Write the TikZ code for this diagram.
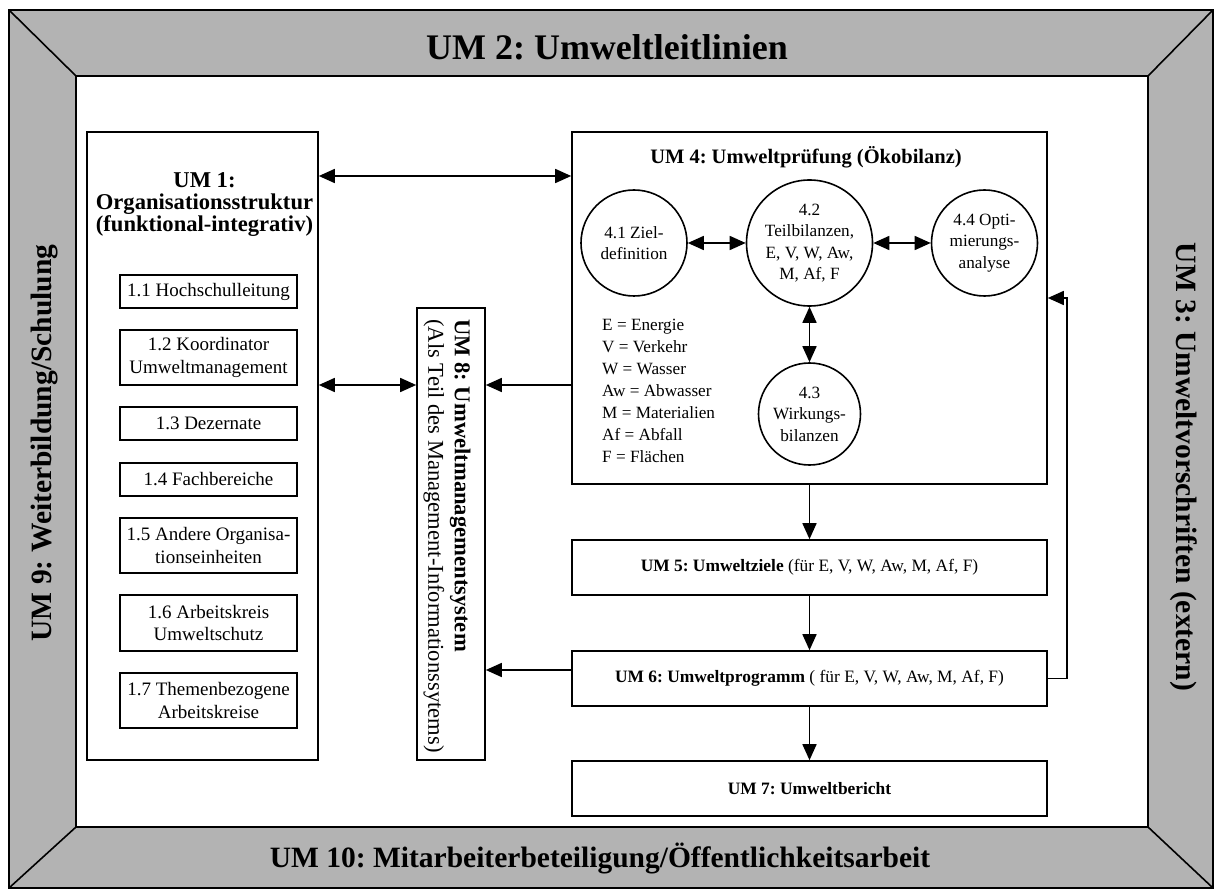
\documentclass[tikz,border=0pt]{standalone}
\usepackage{fontspec}
\setmainfont{Liberation Serif}
\usetikzlibrary{arrows.meta}
\definecolor{bandgray}{HTML}{B3B3B3}
\newcommand\fsz[2]{\fontsize{#1}{#2}\selectfont\frenchspacing}

\begin{document}
\begin{tikzpicture}[x=1pt,y=-1pt,
  box/.style={draw, line width=1.6pt, inner sep=0pt},
  sub/.style={box, minimum width=177pt, align=center, font=\fsz{19}{22.5}},
  bubble/.style={draw, circle, line width=1.6pt, inner sep=0pt, align=center, font=\fsz{17.2}{21.5}},
  tip/.tip={Triangle[length=16pt,width=14pt]},
  flow/.style={line width=1.6pt, -tip},
  twoway/.style={line width=1.6pt, tip-tip},
  band/.style={font=\fsz{29.5}{32}\bfseries, inner sep=0pt},
  wide/.style={box, minimum width=475pt, minimum height=55pt, font=\fsz{17.4}{20}},
]
\useasboundingbox (0,0) rectangle (1215,890);

% bevelled outer frame
\fill[bandgray, even odd rule] (9,10) rectangle (1213,888) (76,76) rectangle (1148,827);
\draw[line width=1.6pt] (9,10) rectangle (1213,888);
\draw[line width=1.6pt] (76,76) rectangle (1148,827);
\draw[line width=1.6pt] (9,10) -- (76,76) (1213,10) -- (1148,76)
  (9,888) -- (76,827) (1213,888) -- (1148,827);

\node[band, font=\fsz{36}{38}\bfseries] (um2) at (607,47) {UM 2: Umweltleitlinien};
\node[band] (um10) at (600,858) {UM 10: Mitarbeiterbeteiligung/Öffentlichkeitsarbeit};
\node[band, rotate=90] (um9) at (45,443) {UM 9: Weiterbildung/Schulung};
\node[band, rotate=-90] (um3) at (1184,467) {UM 3: Umweltvorschriften (extern)};

% UM 1 with its units
\node[box, minimum width=231pt, minimum height=628pt] (um1) at (202.5,446) {};
\node[font=\fsz{22.6}{22}\bfseries, align=center] (um1t) at (204.5,205)
  {UM 1:\\Organisationsstruktur\\(funktional-integrativ)};
\node[sub, minimum height=33pt] (s11) at (208.5,291.5) {1.1 Hochschulleitung};
\node[sub, minimum height=55pt] (s12) at (208.5,357.5) {1.2 Koordinator\\Umweltmanagement};
\node[sub, minimum height=33pt] (s13) at (208.5,423.5) {1.3 Dezernate};
\node[sub, minimum height=33pt] (s14) at (208.5,479.5) {1.4 Fachbereiche};
\node[sub, minimum height=55pt] (s15) at (208.5,545.5) {1.5 Andere Organisa-\\tionseinheiten};
\node[sub, minimum height=56pt] (s16) at (208.5,623) {1.6 Arbeitskreis\\Umweltschutz};
\node[sub, minimum height=55pt] (s17) at (208.5,700.5) {1.7 Themenbezogene\\Arbeitskreise};

% UM 8, upright column
\node[box, minimum width=68pt, minimum height=452pt] (um8) at (451,534) {};
\node[rotate=-90, anchor=west, align=left, inner sep=0pt, font=\fsz{22.6}{26.5}] (um8t) at (447,319)
  {\textbf{UM 8: Umweltmanagementsystem}\\(Als Teil des Management-Informationssytems)};

% UM 4 with the four steps
\node[box, minimum width=475pt, minimum height=352pt] (um4) at (809.5,308) {};
\node[font=\fsz{20.5}{24}\bfseries] (um4t) at (806,157) {UM 4: Umweltprüfung (Ökobilanz)};
\node[bubble, minimum size=106pt] (c41) at (634,243) {4.1 Ziel-\\definition};
\node[bubble, minimum size=126pt] (c42) at (809.5,243) {4.2\\Teilbilanzen,\\E, V, W, Aw,\\M, Af, F};
\node[bubble, minimum size=106pt] (c44) at (984.5,243) {4.4 Opti-\\mierungs-\\analyse};
\node[bubble, minimum size=102pt] (c43) at (809.5,414) {4.3\\Wirkungs-\\bilanzen};
\node[anchor=west, align=left, inner sep=0pt, font=\fsz{17.2}{22}] (legend) at (602,391)
  {E = Energie\\V = Verkehr\\W = Wasser\\Aw = Abwasser\\M = Materialien\\Af = Abfall\\F = Flächen};

% UM 5 to UM 7
\node[wide] (um5) at (809.5,567.5) {\textbf{UM 5: Umweltziele} (für E, V, W, Aw, M, Af, F)};
\node[wide] (um6) at (809.5,678.5) {\textbf{UM 6: Umweltprogramm} ( für E, V, W, Aw, M, Af, F)};
\node[wide] (um7) at (809.5,788.5) {\textbf{UM 7: Umweltbericht}};

% connectors
\coordinate (yA) at (0,176);
\coordinate (yB) at (0,385);
\coordinate (yC) at (0,670);
\coordinate (fb) at (1067,298);
\draw[twoway] (um1.east |- yA) -- (um4.west |- yA);
\draw[twoway] (um1.east |- yB) -- (um8.west |- yB);
\draw[flow] (um4.west |- yB) -- (um8.east |- yB);
\draw[flow] (um6.west |- yC) -- (um8.east |- yC);
\draw[twoway] (c41) -- (c42);
\draw[twoway] (c42) -- (c44);
\draw[twoway] (c42) -- (c43);
\draw[flow] (um4) -- (um5);
\draw[flow] (um5) -- (um6);
\draw[flow] (um6) -- (um7);
\draw[flow] (um6.east) -| (fb) -- (um4.east |- fb);
\end{tikzpicture}
\end{document}
